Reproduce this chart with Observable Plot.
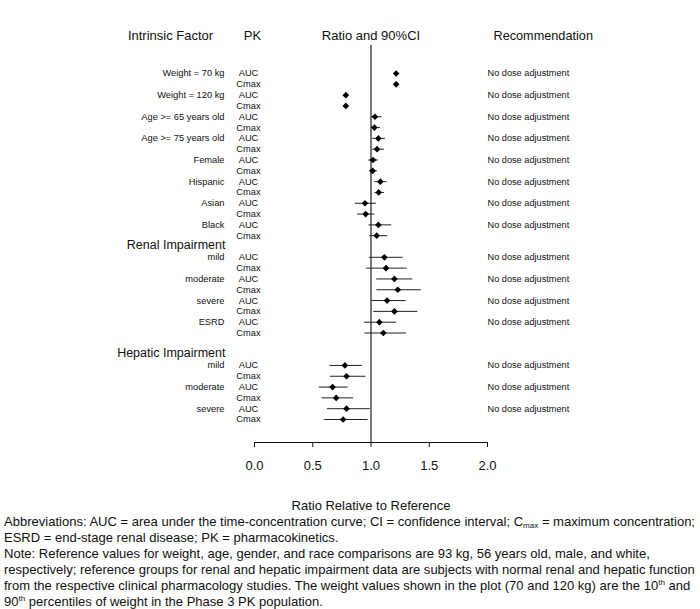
<!DOCTYPE html>
<html><head><meta charset="utf-8">
<script src="https://cdn.jsdelivr.net/npm/d3@7"></script>
<script src="https://cdn.jsdelivr.net/npm/@observablehq/plot@0.6"></script>
<style>
body{margin:0;background:#fff;font-family:"Liberation Sans",Arial,sans-serif;}
#chart{width:700px;height:514px;}
#note{position:absolute;left:4px;top:514px;font-size:13px;line-height:16.1px;color:#111;white-space:nowrap;transform-origin:0 0;}
#note sub,#note sup{font-size:0.62em;line-height:0;}
#note sub{vertical-align:-0.25em;}
#note sup{vertical-align:0.6em;}
</style></head><body>
<div id="chart"></div>
<div id="note">
<div id="l1">Abbreviations: AUC = area under the time-concentration curve; CI = confidence interval; C<sub>max</sub> = maximum concentration;</div>
<div>ESRD = end-stage renal disease; PK = pharmacokinetics.</div>
<div>Note: Reference values for weight, age, gender, and race comparisons are 93 kg, 56 years old, male, and white,</div>
<div>respectively; reference groups for renal and hepatic impairment data are subjects with normal renal and hepatic function</div>
<div>from the respective clinical pharmacology studies. The weight values shown in the plot (70 and 120 kg) are the 10<sup>th</sup> and</div>
<div>90<sup>th</sup> percentiles of weight in the Phase 3 PK population.</div>
</div>
<script>
const factorLabels = ["Weight = 70 kg","Weight = 120 kg","Age >= 65 years old","Age >= 75 years old","Female","Hispanic","Asian","Black","mild","moderate","severe","ESRD","mild","moderate","severe"];
const factorGroup = [0,0,0,0,0,0,0,0,1,1,1,1,2,2,2];
const groupTitles = ["", "Renal Impairment", "Hepatic Impairment"];
const groupGapBefore = [0, 0, 1];
const pkLabels = ["AUC","Cmax"];
const aucRatio  = [1.216,0.784,1.034,1.063,1.017,1.080,0.948,1.063,1.115,1.201,1.138,1.072,0.776,0.670,0.790];
const aucLow    = [null,null,1.006,1.014,0.980,1.034,0.865,0.983,0.986,1.049,1.006,0.943,0.647,0.555,0.626];
const aucHigh   = [null,null,1.095,1.123,1.063,1.138,1.046,1.178,1.276,1.359,1.302,1.221,0.925,0.804,0.994];
const cmaxRatio = [1.216,0.784,1.029,1.052,1.014,1.066,0.954,1.049,1.129,1.230,1.201,1.106,0.790,0.701,0.761];
const cmaxLow   = [null,null,1.006,1.014,0.986,1.034,0.885,0.989,0.963,1.050,1.023,0.948,0.652,0.580,0.598];
const cmaxHigh  = [null,null,1.080,1.115,1.055,1.115,1.034,1.144,1.310,1.430,1.402,1.305,0.957,0.851,0.974];
const recommendations = ["No dose adjustment","No dose adjustment","No dose adjustment","No dose adjustment","No dose adjustment","No dose adjustment","No dose adjustment","No dose adjustment","No dose adjustment","No dose adjustment","No dose adjustment","No dose adjustment","No dose adjustment","No dose adjustment","No dose adjustment"];
const xTicks = [0, 0.5, 1, 1.5, 2];
const columnHeaders = ["Intrinsic Factor","PK","Ratio and 90%CI","Recommendation"];
const xTitle = "Ratio Relative to Reference";

// build row layout
const keys = [];
const rows = [];
const headers = [];
let prev = 0;
factorLabels.forEach((f, i) => {
  const g = factorGroup[i];
  if (g !== prev) {
    for (let k = 0; k < groupGapBefore[g]; k++) keys.push("gap" + g + "-" + k);
    keys.push("hdr" + g);
    headers.push({key: "hdr" + g, label: groupTitles[g]});
    prev = g;
  }
  const vals = [[aucRatio[i], aucLow[i], aucHigh[i]], [cmaxRatio[i], cmaxLow[i], cmaxHigh[i]]];
  pkLabels.forEach((pk, j) => {
    const key = "r" + i + pk;
    keys.push(key);
    rows.push({key, factor: j === 0 ? f : "", pk, ratio: vals[j][0], lo: vals[j][1], hi: vals[j][2], rec: j === 0 ? recommendations[i] : ""});
  });
});
const ci = rows.filter(d => d.lo != null);
const font = "Liberation Sans, Arial, sans-serif";

const chart = Plot.plot({
  width: 700, height: 514,
  marginLeft: 254, marginRight: 213, marginTop: 45, marginBottom: 72,
  style: {fontFamily: font, fontSize: "13px", color: "#111", background: "#fff"},
  x: {domain: [0, 2], ticks: xTicks, tickFormat: d3.format(".1f"), tickSize: 5, tickPadding: 13, line: true, label: null},
  y: {type: "point", domain: keys, range: [73, 419], padding: 0, round: false, axis: null},
  marks: [
    Plot.ruleX([1], {stroke: "#555", strokeWidth: 1.6}),
    Plot.ruleY(ci, {y: "key", x1: "lo", x2: "hi", stroke: "#222", strokeWidth: 1}),
    Plot.ruleX(ci, {x: "lo", y: "key", insetTop: -2, insetBottom: -2, stroke: "#222", strokeWidth: 1}),
    Plot.ruleX(ci, {x: "hi", y: "key", insetTop: -2, insetBottom: -2, stroke: "#222", strokeWidth: 1}),
    Plot.dot(rows, {x: "ratio", y: "key", symbol: "diamond2", r: 3, fill: "#000", stroke: "none"}),
    Plot.text(rows, {y: "key", text: "factor", frameAnchor: "left", dx: -30, textAnchor: "end", fontSize: 9.3, fill: "#111"}),
    Plot.text(rows, {y: "key", text: "pk", frameAnchor: "left", dx: -6, textAnchor: "middle", fontSize: 9.3, fill: "#111"}),
    Plot.text(rows, {y: "key", text: "rec", frameAnchor: "right", dx: 0, textAnchor: "start", fontSize: 9.2, fill: "#111"}),
    Plot.text(headers, {y: "key", text: "label", frameAnchor: "left", dx: -29, dy: -1.5, textAnchor: "end", fontSize: 12.5, fill: "#111"}),
    Plot.text([columnHeaders[0]], {frameAnchor: "top-left", dx: -84, dy: -15, textAnchor: "middle", fontSize: 13, fill: "#111"}),
    Plot.text([columnHeaders[1]], {frameAnchor: "top-left", dx: -2, dy: -15, textAnchor: "middle", fontSize: 13, fill: "#111"}),
    Plot.text([columnHeaders[2]], {frameAnchor: "top", dy: -15, textAnchor: "middle", fontSize: 13, fill: "#111"}),
    Plot.text([columnHeaders[3]], {frameAnchor: "top-right", dx: 6, dy: -15, textAnchor: "start", fontSize: 12.7, fill: "#111"}),
    Plot.text([xTitle], {frameAnchor: "bottom", dy: 67, textAnchor: "middle", fontSize: 13, fill: "#111"})
  ]
});
document.getElementById("chart").appendChild(chart);

// fit the footnote width to the page
const l1 = document.getElementById("l1");
const r = document.createRange(); r.selectNodeContents(l1);
const w = r.getBoundingClientRect().width;
document.getElementById("note").style.transform = `scaleX(${691 / w})`;
</script>
</body></html>
